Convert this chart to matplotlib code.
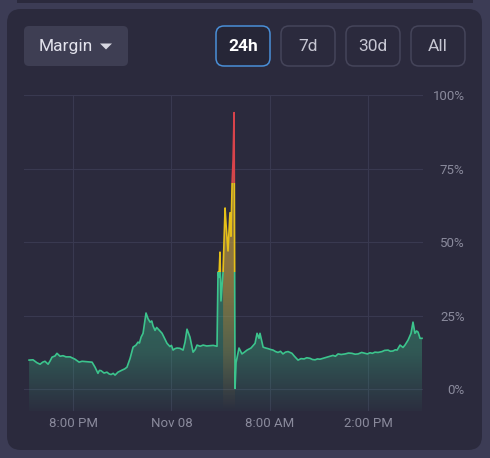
import numpy as np
import matplotlib
matplotlib.use("Agg")
import matplotlib.pyplot as plt
from matplotlib.patches import FancyBboxPatch, Rectangle, Polygon
from matplotlib.colors import LinearSegmentedColormap

plt.rcParams['font.family'] = ['Roboto', 'DejaVu Sans']

# hours relative to 8:00 PM, margin in %
hours = [-2.68, -2.44, -2.2, -2.01, -1.85, -1.71, -1.52, -1.40, -1.28, -1.10,
         -0.98, -0.79, -0.61, -0.43, -0.18, 0.12, 0.37, 0.55, 0.73, 0.95,
         1.16, 1.34, 1.52, 1.61, 1.71, 1.89, 2.07, 2.20, 2.32, 2.45,
         2.56, 2.74, 2.99, 3.15, 3.29, 3.48, 3.66, 3.84, 3.96, 4.05,
         4.15, 4.27, 4.45, 4.57, 4.70, 4.80, 4.88, 5.0, 5.10, 5.18,
         5.30, 5.43, 5.61, 5.73, 5.91, 6.0, 6.10, 6.22, 6.34, 6.52,
         6.71, 6.83, 6.95, 7.13, 7.32, 7.45, 7.56, 7.75, 7.93, 8.15,
         8.35, 8.55, 8.78, 8.84, 8.90, 8.96, 9.02, 9.15, 9.27, 9.33,
         9.45, 9.57, 9.63, 9.70, 9.76, 9.82, 9.88, 9.94, 10.12, 10.30,
         10.45, 10.61, 10.85, 11.10, 11.22, 11.34, 11.40, 11.59, 11.75, 11.89,
         12.05, 12.20, 12.35, 12.50, 12.65, 12.80, 12.95, 13.11, 13.35, 13.50,
         13.72, 13.90, 14.09, 14.25, 14.45, 14.60, 14.76, 14.90, 15.06, 15.30,
         15.55, 15.70, 15.85, 16.00, 16.16, 16.35, 16.59, 16.80, 17.01, 17.20,
         17.38, 17.60, 17.80, 17.95, 18.11, 18.25, 18.41, 18.60, 18.84, 19.00,
         19.21, 19.35, 19.51, 19.65, 19.76, 19.94, 20.12, 20.24, 20.43, 20.61,
         20.73, 20.85, 20.95, 21.04, 21.16, 21.28]
margin = [9.9, 10.0, 9.0, 8.5, 9.2, 9.5, 8.5, 9.6, 10.9, 11.3,
          12.2, 11.2, 11.4, 11.0, 11.0, 10.2, 9.2, 9.5, 9.4, 9.3,
          9.2, 7.5, 5.4, 6.4, 6.3, 5.5, 5.8, 5.2, 5.0, 5.4,
          4.8, 5.8, 6.5, 6.9, 7.5, 10.5, 14.3, 15.0, 16.0, 15.7,
          17.7, 19.0, 25.9, 24.0, 22.8, 23.2, 21.5, 20.0, 21.0, 20.5,
          19.8, 19.0, 17.0, 15.6, 14.5, 14.9, 13.3, 13.8, 14.0, 13.9,
          13.3, 16.0, 20.4, 17.7, 12.6, 13.5, 15.0, 14.6, 15.0, 14.7,
          14.8, 14.9, 14.6, 39.8, 38.0, 46.6, 30.0, 40.0, 61.6, 56.0,
          47.0, 60.0, 52.0, 70.0, 78.0, 94.0, 0.3, 9.0, 14.0, 12.0,
          12.6, 13.3, 14.0, 15.6, 19.0, 17.3, 19.0, 14.3, 14.0, 13.8,
          13.5, 13.3, 12.8, 12.5, 12.9, 12.0, 12.6, 12.8, 12.2, 11.2,
          9.9, 10.4, 10.3, 10.7, 10.5, 10.1, 10.0, 10.3, 10.2, 10.6,
          11.0, 11.3, 11.5, 11.2, 12.0, 11.8, 12.0, 12.3, 12.2, 11.9,
          12.0, 12.5, 12.2, 12.0, 12.4, 12.2, 12.6, 12.5, 12.8, 13.2,
          13.3, 12.9, 13.0, 13.4, 13.3, 15.0, 14.2, 15.0, 16.7, 19.0,
          22.8, 19.0, 19.8, 19.4, 17.3, 17.3]

tick_hours = [0, 6, 12, 18]
tick_labels = ["8:00 PM", "Nov 08", "8:00 AM", "2:00 PM"]
y_ticks = [0, 25, 50, 75, 100]
y_labels = ["0%", "25%", "50%", "75%", "100%"]
buttons = ["24h", "7d", "30d", "All"]

outer_bg = "#3c3c55"
panel_bg = "#2b2a3d"
grid_c = "#393950"
label_c = "#8a8a9c"
green = "#3cc48d"
yellow = "#e6c019"
red = "#d8434b"

W, H = 490, 458
fig = plt.figure(figsize=(W / 100, H / 100), dpi=100)
fig.patch.set_facecolor(outer_bg)

# background / UI layer in pixel coordinates
bg = fig.add_axes([0, 0, 1, 1], zorder=0)
bg.set_xlim(0, W)
bg.set_ylim(H, 0)
bg.axis("off")
bg.add_patch(Rectangle((17, 0), 456, 2.5, color=panel_bg, lw=0))
bg.add_patch(FancyBboxPatch((7, 9), 475, 441, boxstyle="round,pad=0,rounding_size=14",
                            fc=panel_bg, ec="none"))
bg.add_patch(FancyBboxPatch((24, 26), 104, 40, boxstyle="round,pad=0,rounding_size=5",
                            fc="#3e3e53", ec="none"))
bg.text(39, 46.5, "Margin", color="#e2e2ec", fontsize=12.5, va="center", ha="left")
bg.add_patch(Polygon([[100, 43.5], [112, 43.5], [106, 49.5]], closed=True, fc="#d8d8e2", ec="none"))

bx = [216, 281, 346, 411]
for i, (lab, x0) in enumerate(zip(buttons, bx)):
    active = i == 0
    bg.add_patch(FancyBboxPatch((x0, 26), 54, 40, boxstyle="round,pad=0,rounding_size=8",
                                fc="#262637" if active else panel_bg,
                                ec="#4a8fd8" if active else "#45455a", lw=1.1))
    bg.text(x0 + 27, 46.5, lab, color="#ffffff" if active else "#c6c6d2",
            fontsize=12.5, fontweight="bold" if active else "normal",
            ha="center", va="center")

# chart layer
ax = fig.add_axes([24 / W, 47 / H, 399 / W, 316 / H], zorder=1)
ax.set_facecolor("none")
for s in ax.spines.values():
    s.set_visible(False)

ax.set_yticks(y_ticks)
ax.set_yticklabels(y_labels)
ax.set_xticks(tick_hours)
ax.set_xticklabels(tick_labels)
ax.yaxis.tick_right()
ax.tick_params(axis="both", length=0, colors=label_c, labelsize=9.5)
ax.tick_params(axis="y", pad=2)
ax.tick_params(axis="x", pad=4)
for lbl in ax.get_yticklabels():
    lbl.set_horizontalalignment("right")
    lbl.set_x(1.0975)
ax.grid(True, color=grid_c, lw=0.8)
ax.set_axisbelow(True)

x = np.array(hours)
y = np.array(margin)
ybot = -7.4

# gradient fill under the curve (green)
poly = ax.fill_between(x, y, ybot, color="none", lw=0)
gcmap = LinearSegmentedColormap.from_list(
    "g", [(0.24, 0.77, 0.55, 0.03), (0.24, 0.77, 0.55, 0.30), (0.24, 0.77, 0.55, 0.40)])
vals = np.clip((np.linspace(100, ybot, 256) - ybot) / 40.0, 0, 1).reshape(-1, 1)
im = ax.imshow(vals, cmap=gcmap, vmin=0, vmax=1, aspect="auto",
               extent=[x[0], x[-1], ybot, 100], origin="upper", zorder=1)
im.set_clip_path(poly.get_paths()[0], transform=ax.transData)

# orange fill under the spike
sp = (x >= 9.15) & (x <= 9.88)
poly2 = ax.fill_between(x[sp], y[sp], ybot, color="none", lw=0)
ocmap = LinearSegmentedColormap.from_list(
    "o", [(0.85, 0.5, 0.15, 0.0), (0.85, 0.5, 0.15, 0.55)])
vals2 = np.clip((np.linspace(100, ybot, 256) - ybot) / 50.0, 0, 1).reshape(-1, 1)
im2 = ax.imshow(vals2, cmap=ocmap, vmin=0, vmax=1, aspect="auto",
                extent=[x[0], x[-1], ybot, 100], origin="upper", zorder=1.5)
im2.set_clip_path(poly2.get_paths()[0], transform=ax.transData)
ax.set_xlim(-2.99, 21.34)
ax.set_ylim(ybot, 100)

# line coloured by value band
bands = [(ybot - 5, 40, green), (40, 70, yellow), (70, 110, red)]
for lo, hi, c in bands:
    ln, = ax.plot(x, y, color=c, lw=1.2, zorder=3, solid_joinstyle="round")
    clip = Rectangle((-5, lo), 30, hi - lo, transform=ax.transData)
    ln.set_clip_path(clip)

fig.savefig("out.png", dpi=100, facecolor=fig.get_facecolor())
